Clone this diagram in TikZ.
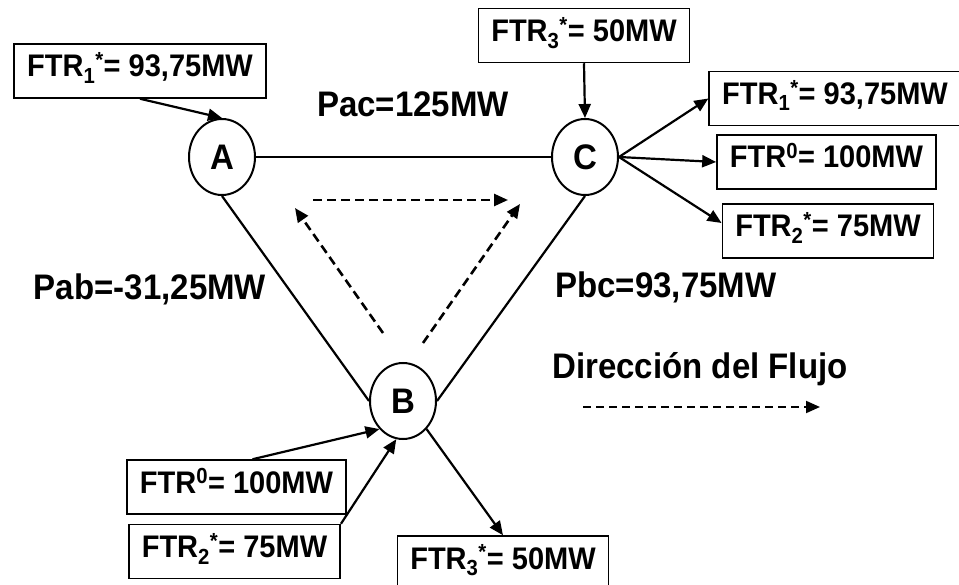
\documentclass[tikz,border=0pt]{standalone}
\usepackage{fontspec}
\setmainfont{Liberation Sans}[FakeStretch=0.93]
\usetikzlibrary{shapes.geometric,arrows.meta}

\tikzset{
  big/.style={font=\bfseries\fontsize{35.5}{42}\selectfont},
  ftrbox/.style={font=\bfseries\fontsize{31.2}{38}\selectfont,draw,line width=1.5pt,inner xsep=13pt,inner ysep=9pt,text height=24pt,text depth=12pt},
  bus/.style={big,ellipse,draw,line width=2pt,minimum width=66pt,minimum height=76pt,inner sep=0pt},
  flow/.style={line width=2.2pt,-{Triangle[length=14pt,width=12pt]}},
  dir/.style={line width=2.6pt,dash pattern=on 9pt off 5pt,-{Triangle[length=14pt,width=12pt]}}
}

\begin{document}
\begin{tikzpicture}[x=1pt,y=-1pt]
\useasboundingbox (0,0) rectangle (959,585);
% nodos de la red
\node[bus] (A) at (222,157) {A};
\node[bus] (C) at (585,157) {C};
\node[bus] (B) at (403,401) {B};
\draw[line width=2.2pt] (A) -- (C);
\draw[line width=2.2pt] (A.south) -- (B.west);
\draw[line width=2.2pt] (C.south) -- (B.east);
% FTR
\node[ftrbox] (ftrAin) at (140,71) {FTR\textsubscript{1}\textsuperscript{*}= 93,75MW};
\node[ftrbox] (ftrCin) at (584,35.5) {FTR\textsubscript{3}\textsuperscript{*}= 50MW};
\node[ftrbox] (ftrCa) at (835,98.5) {FTR\textsubscript{1}\textsuperscript{*}= 93,75MW};
\node[ftrbox] (ftrCb) at (826.5,162) {FTR\textsuperscript{0}= 100MW};
\node[ftrbox] (ftrCc) at (828,231) {FTR\textsubscript{2}\textsuperscript{*}= 75MW};
\node[ftrbox] (ftrBa) at (236.5,487) {FTR\textsuperscript{0}= 100MW};
\node[ftrbox] (ftrBb) at (234.5,551.5) {FTR\textsubscript{2}\textsuperscript{*}= 75MW};
\node[ftrbox] (ftrBc) at (503,563) {FTR\textsubscript{3}\textsuperscript{*}= 50MW};
\draw[flow] (ftrAin.south) -- (A.north);
\draw[flow] (ftrCin.south) -- (C.north);
\draw[flow] (C.east) -- (ftrCa.west);
\draw[flow] (C.east) -- (ftrCb.west);
\draw[flow] (C.east) -- ([yshift=8pt]ftrCc.west);
\draw[flow] ([xshift=16pt]ftrBa.north) -- (B.230);
\draw[flow] (ftrBb.north east) -- (B.260);
\draw[flow] (B.310) -- (ftrBc.north);
% flujos
\node[big,anchor=base] (pac) at (413,117) {Pac=125MW};
\node[big,anchor=base] (pab) at (150,300) {Pab=-31,25MW};
\node[big,anchor=base] (pbc) at (666,298) {Pbc=93,75MW};
\coordinate (t1) at (313,200);
\coordinate (t2) at (508,200);
\coordinate (l1) at (383,333);
\coordinate (l2) at (295,208);
\coordinate (r1) at (423,343);
\coordinate (r2) at (520,204);
\draw[dir] (t1) -- (t2);
\draw[dir] (l1) -- (l2);
\draw[dir] (r1) -- (r2);
% leyenda
\node[big,anchor=base] (leyenda) at (700,379) {Dirección del Flujo};
\coordinate (g1) at (583,407);
\coordinate (g2) at (820,407);
\draw[dir,line width=2pt,dash pattern=on 8pt off 5pt] (g1) -- (g2);
\end{tikzpicture}
\end{document}
